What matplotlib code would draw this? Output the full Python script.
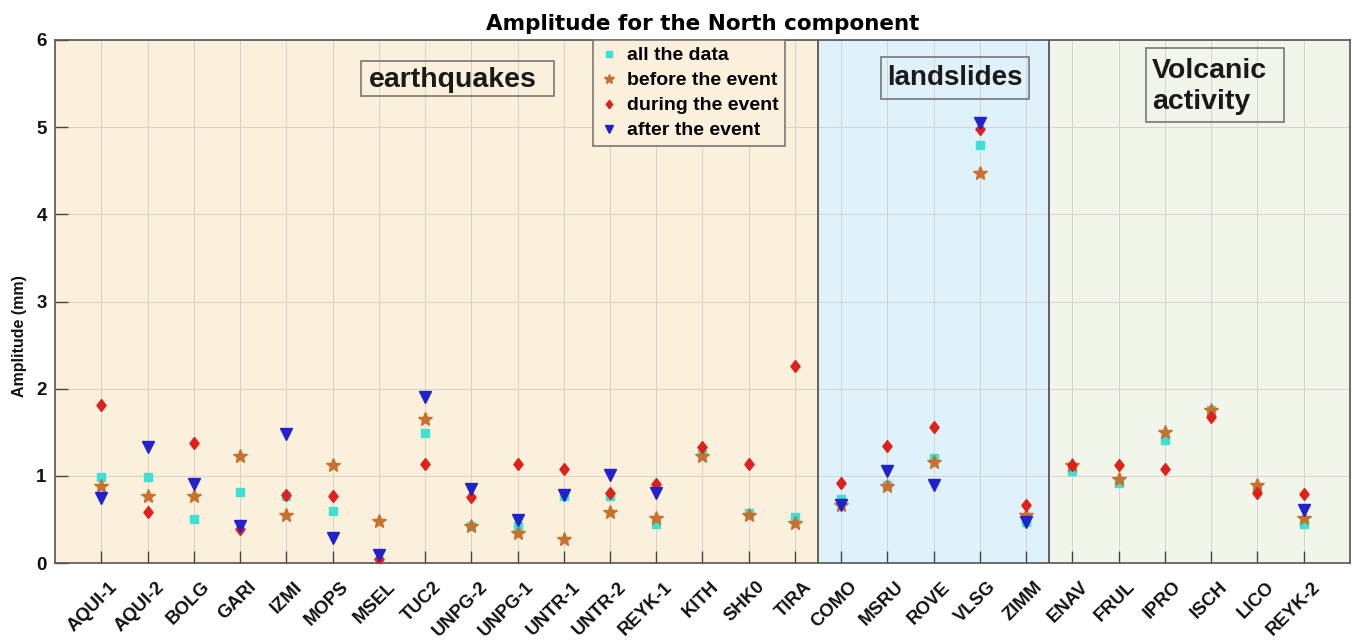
import numpy as np
import matplotlib
matplotlib.use("Agg")
import matplotlib.pyplot as plt
from matplotlib.patches import Rectangle
from matplotlib.transforms import ScaledTranslation, blended_transform_factory

stations = ["AQUI-1", "AQUI-2", "BOLG", "GARI", "IZMI", "MOPS", "MSEL", "TUC2",
            "UNPG-2", "UNPG-1", "UNTR-1", "UNTR-2", "REYK-1", "KITH", "SHK0", "TIRA",
            "COMO", "MSRU", "ROVE", "VLSG", "ZIMM",
            "ENAV", "FRUL", "IPRO", "ISCH", "LICO", "REYK-2"]
nan = np.nan
all_data = [0.99, 0.99, 0.51, 0.82, 0.77, 0.60, nan, 1.49,
            0.43, 0.43, 0.77, 0.77, 0.45, 1.25, 0.57, 0.53,
            0.74, 0.90, 1.21, 4.80, 0.47,
            1.06, 0.92, 1.41, 1.76, 0.85, 0.45]
before = [0.885, 0.77, 0.77, 1.23, 0.55, 1.12, 0.48, 1.655,
          0.42, 0.35, 0.27, 0.58, 0.52, 1.23, 0.555, 0.46,
          0.66, 0.88, 1.16, 4.475, 0.555,
          1.13, 0.965, 1.50, 1.76, 0.90, 0.52]
during = [1.81, 0.59, 1.38, 0.39, 0.785, 0.77, 0.05, 1.14,
          0.76, 1.14, 1.08, 0.80, 0.91, 1.33, 1.14, 2.26,
          0.92, 1.34, 1.56, 4.98, 0.67,
          1.12, 1.12, 1.08, 1.67, 0.80, 0.79]
after = [0.75, 1.33, 0.91, 0.43, 1.475, 0.29, 0.09, 1.90,
         0.855, 0.49, 0.78, 1.01, 0.80, nan, nan, nan,
         0.66, 1.06, 0.90, 5.05, 0.47,
         nan, nan, nan, nan, nan, 0.61]
series_labels = ["all the data", "before the event", "during the event", "after the event"]
groups = ["earthquakes", "landslides", "Volcanic\nactivity"]
group_sizes = [16, 5, 6]

plt.rcParams['font.family'] = ['Liberation Sans', 'DejaVu Sans']

fig = plt.figure(figsize=(13.55, 6.42), dpi=100)
ax = fig.add_axes([0.0406, 0.123, 0.9557, 0.8147])

x = np.arange(1, len(stations) + 1)

# background regions
bg_colors = ["#FBF0DC", "#DFF1FA", "#F1F5EA"]
start = 0.0
bounds = []
for i, n in enumerate(group_sizes):
    end = (sum(group_sizes[:i + 1]) + 0.5) if i < len(group_sizes) - 1 else 28
    ax.axvspan(start, end, color=bg_colors[i], zorder=0, lw=0)
    if i < len(group_sizes) - 1:
        bounds.append(end)
    start = end
for b in bounds:
    ax.axvline(b, color="#555555", lw=1.3, zorder=1)

ax.set_axisbelow(True)
ax.grid(True, color="#d6d3cc", lw=0.7, zorder=0.5)

diamond = [(0, -1), (0.77, 0), (0, 1), (-0.77, 0), (0, -1)]
ax.plot(x, all_data, ls="none", marker="s", ms=6.3, color="#3DE0D2", label=series_labels[0], zorder=3)
ax.plot(x, before, ls="none", marker="*", ms=10, color="#C8702E", label=series_labels[1], zorder=4)
ax.plot(x, during, ls="none", marker=diamond, ms=8.6, color="#E0201B", label=series_labels[2], zorder=5)
ax.plot(x, after, ls="none", marker="v", ms=8, color="#2222CC", label=series_labels[3], zorder=6)

ax.set_xlim(0, 28)
ax.set_ylim(0, 6)
ax.set_xticks(x)
ax.set_xticklabels([])
lab_tr = blended_transform_factory(ax.transData, ax.transAxes) + \
    ScaledTranslation(0.17, -0.245, fig.dpi_scale_trans)
for xi, name in zip(x, stations):
    ax.text(xi, 0, name, transform=lab_tr, rotation=45, rotation_mode="anchor",
            ha="right", va="baseline", fontsize=13.3, fontweight="bold", color="#111111",
            clip_on=False)

ax.set_yticks(range(0, 7))
ax.set_yticklabels([str(v) for v in range(0, 7)], fontsize=13.5, fontweight="bold", color="#111111")
ax.tick_params(axis="both", direction="in", length=9, width=1, color="#444444", pad=6)
for s in ax.spines.values():
    s.set_color("#555555")
    s.set_linewidth(1.2)

ax.set_ylabel("Amplitude (mm)", fontsize=11.5, fontweight="bold", color="#111111")
ax.yaxis.set_label_coords(-0.022, 0.434)
ax.set_title("Amplitude for the North component", fontsize=15.5, fontweight="heavy",
             family=["DejaVu Sans"], pad=7)

# group label boxes
box_kw = dict(facecolor="none", edgecolor="#777777", lw=1.2, zorder=7)
ax.add_patch(Rectangle((6.62, 5.355), 10.79 - 6.62, 5.755 - 5.355, **box_kw))
ax.add_patch(Rectangle((17.85, 5.32), 21.07 - 17.85, 5.805 - 5.32, **box_kw))
ax.add_patch(Rectangle((23.59, 5.056), 26.57 - 23.59, 5.905 - 5.056, **box_kw))
ax.text(8.6, 5.54, groups[0], fontsize=20.5, fontweight="bold", ha="center", va="center",
        color="#1a1a1a", zorder=8)
ax.text(19.46, 5.56, groups[1], fontsize=20, fontweight="bold", ha="center", va="center",
        color="#1a1a1a", zorder=8)
ax.text(23.72, 5.47, groups[2], fontsize=20.5, fontweight="bold", ha="left", va="center",
        color="#1a1a1a", linespacing=1.25, zorder=8)

leg = ax.legend(loc="upper left", bbox_to_anchor=(0.4154, 1.0),
                prop={"weight": "bold", "size": 14}, frameon=True, fancybox=False,
                edgecolor="#777777", facecolor="#FBF0DC", framealpha=1,
                handlelength=0.9, handletextpad=0.5, borderpad=0.35, labelspacing=0.38,
                borderaxespad=0.0, markerscale=0.7)
leg.get_frame().set_linewidth(1.2)
leg.set_zorder(8)

fig.savefig("out.png", dpi=100)
